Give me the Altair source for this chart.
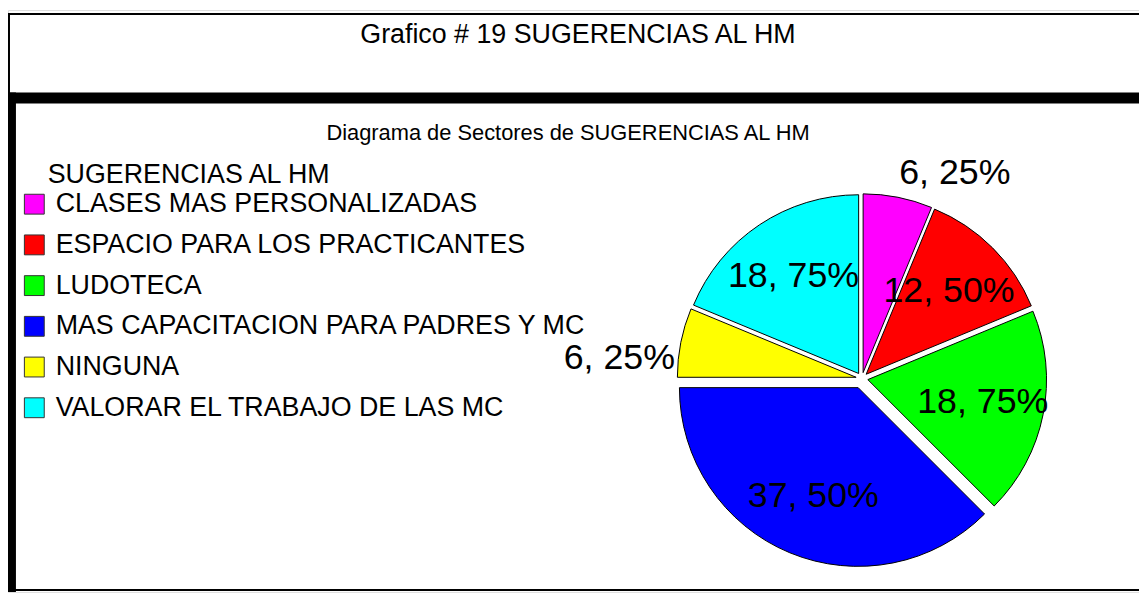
import altair as alt
import pandas as pd

# ---- data ----
categories = [
    "CLASES MAS PERSONALIZADAS",
    "ESPACIO PARA LOS PRACTICANTES",
    "LUDOTECA",
    "MAS CAPACITACION PARA PADRES Y MC",
    "NINGUNA",
    "VALORAR EL TRABAJO DE LAS MC",
]
percents = [6.25, 12.50, 18.75, 37.50, 6.25, 18.75]
colors = ["#FF00FF", "#FF0000", "#00FF00", "#0000FF", "#FFFF00", "#00FFFF"]

TITLE = "Grafico # 19 SUGERENCIAS AL HM"
SUBTITLE = "Diagrama de Sectores de SUGERENCIAS AL HM"
LEGEND_TITLE = "SUGERENCIAS AL HM"
EXPLODED = "MAS CAPACITACION PARA PADRES Y MC"

# ---- layout / style constants ----
W, H = 1139, 586
CX, CY = 860, 371          # pie centre (view px)
RADIUS = 180
EX, EX_BIG = 6, 10         # explosion offsets
R_IN, R_OUT = 118, 186     # label radii
FONT = "Liberation Sans"

df = pd.DataFrame({"cat": categories, "pct": percents, "order": list(range(len(categories)))})
one = pd.DataFrame({"k": [0]})

base = (
    alt.Chart(df)
    .transform_window(cum="sum(pct)", sort=[alt.SortField("order")], frame=[None, 0])
    .transform_joinaggregate(total="sum(pct)")
    .transform_calculate(
        start="(datum.cum - datum.pct) / datum.total * 2 * PI",
        end="datum.cum / datum.total * 2 * PI",
    )
    .transform_calculate(
        mid="(datum.start + datum.end) / 2",
        ex=f"datum.cat == '{EXPLODED}' ? {EX_BIG} : {EX}",
        lab="replace(format(datum.pct, '.2f'), '.', ', ') + '%'",
    )
    .transform_calculate(
        ax=f"{CX} + datum.ex * sin(datum.mid)",
        ay=f"{CY} - datum.ex * cos(datum.mid)",
        lr=f"datum.pct < 10 ? {R_OUT} : {R_IN}",
    )
    .transform_calculate(
        lx="datum.ax + datum.lr * sin(datum.mid)",
        ly="datum.ay - datum.lr * cos(datum.mid)",
    )
)

pie = base.mark_arc(radius=RADIUS, stroke="black", strokeWidth=1).encode(
    theta=alt.Theta("start:Q", scale=None),
    theta2="end:Q",
    x=alt.X("ax:Q", scale=None, axis=None),
    y=alt.Y("ay:Q", scale=None, axis=None),
    color=alt.Color(
        "cat:N",
        scale=alt.Scale(domain=categories, range=colors),
        sort=categories,
        legend=alt.Legend(
            title=None,
            orient="none",
            legendX=13,
            legendY=182,
            symbolType="square",
            symbolSize=400,
            symbolStrokeColor="#333333",
            symbolStrokeWidth=1,
            symbolOpacity=1,
            labelFontSize=27,
            labelFont=FONT,
            labelColor="black",
            labelOffset=8,
            labelLimit=800,
            rowPadding=13,
        ),
    ),
)

lab_enc = dict(
    x=alt.X("lx:Q", scale=None, axis=None),
    y=alt.Y("ly:Q", scale=None, axis=None),
    text="lab:N",
)
lab_in = base.transform_filter("datum.pct >= 10").mark_text(
    fontSize=36, font=FONT, color="black", align="center", baseline="middle"
).encode(**lab_enc)
lab_out_r = base.transform_filter("datum.pct < 10 && sin(datum.mid) > 0").mark_text(
    fontSize=36, font=FONT, color="black", align="left", baseline="bottom"
).encode(**lab_enc)
lab_out_l = base.transform_filter("datum.pct < 10 && sin(datum.mid) <= 0").mark_text(
    fontSize=36, font=FONT, color="black", align="right", baseline="top"
).encode(**lab_enc)

def rect(x, x2, y, y2):
    return alt.Chart(one).mark_rect(color="black").encode(
        x=alt.value(x), x2=alt.value(x2), y=alt.value(y), y2=alt.value(y2)
    )

frame = [
    rect(0, W, 3, 5),      # thin top border
    rect(0, 2, 3, 84),     # thin left border
    rect(0, W, 83, 94),    # thick band
    rect(0, 8, 83, H),     # thick left column
    rect(0, W, 583, 585),  # bottom line
]

def label(txt, x, y, size, align="center"):
    return alt.Chart(one).mark_text(
        text=txt, fontSize=size, font=FONT, color="black", align=align, baseline="alphabetic"
    ).encode(x=alt.value(x), y=alt.value(y))

texts = [
    label(TITLE, 574, 33, 27),
    label(SUBTITLE, 564, 131, 22),
    label(LEGEND_TITLE, 40, 174, 27, align="left"),
]

chart = (
    alt.layer(*frame, pie, lab_in, lab_out_r, lab_out_l, *texts)
    .properties(width=W, height=H, autosize=alt.AutoSizeParams(type="none"), padding=0)
    .configure_view(stroke=None)
    .configure(background="white", font=FONT)
)

chart.save("out.html", embed_options={"renderer": "svg", "actions": False})
